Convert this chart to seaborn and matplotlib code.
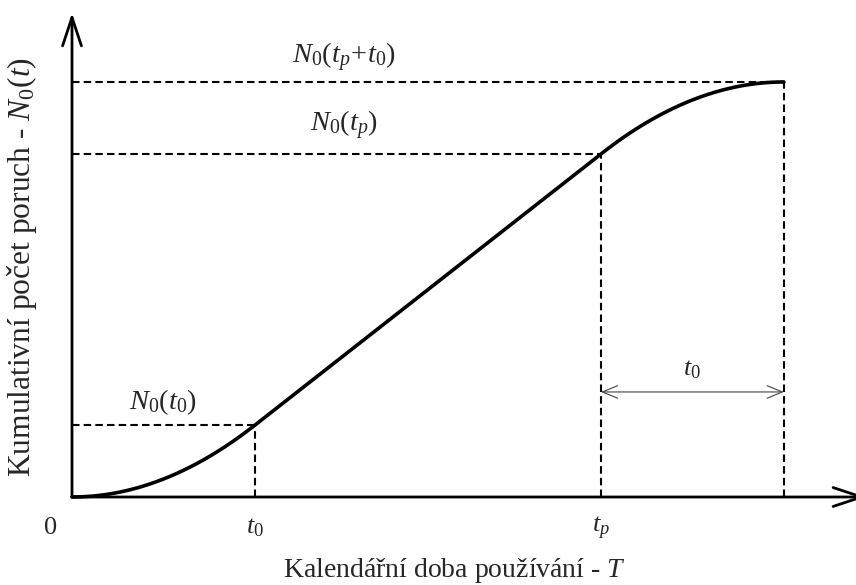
import numpy as np
import matplotlib
matplotlib.use("Agg")
import matplotlib.pyplot as plt
from matplotlib.patches import FancyArrowPatch
import seaborn as sns

# Characteristic times (in units of t0) and cumulative failure levels
t_marks = [1.0, 2.89]            # t0, tp
n_levels = [0.393, 1.874, 2.268]  # N0(t0), N0(tp), N0(tp+t0)
tick_labels = ["0", r"$t_0$", r"$t_p$"]
level_labels = [r"$N_0(t_0)$", r"$N_0(t_p)$", r"$N_0(t_p\!+\!t_0)$"]
x_title = r"Kalendářní doba používání - $T$"
y_title = r"Kumulativní počet poruch - $N_0(t)$"

sns.set_theme(style="white")
plt.rcParams["font.family"] = ["Liberation Serif", "DejaVu Serif"]
plt.rcParams["mathtext.fontset"] = "custom"
plt.rcParams["mathtext.rm"] = "Liberation Serif"
plt.rcParams["mathtext.it"] = "Liberation Serif:italic"
plt.rcParams["mathtext.bf"] = "Liberation Serif:bold"

t0, tp = t_marks
n_t0, n_tp, n_end = n_levels
t_end = tp + t0

# Piecewise curve: accelerating run-in, linear wear, decelerating saturation
slope = (n_tp - n_t0) / (tp - t0)
x1 = np.linspace(0, t0, 80)
y1 = n_t0 * (x1 / t0) ** 2
x2 = np.linspace(t0, tp, 80)
y2 = n_t0 + slope * (x2 - t0)
x3 = np.linspace(tp, t_end, 80)
y3 = n_tp + (n_end - n_tp) * (2 * (x3 - tp) / t0 - ((x3 - tp) / t0) ** 2)
xs = np.concatenate([x1, x2, x3])
ys = np.concatenate([y1, y2, y3])

fig = plt.figure(figsize=(8.56, 5.85), dpi=100)
ax = fig.add_axes([0, 0, 1, 1])
ax.set_xlim(-72 / 183, (856 - 72) / 183)
ax.set_ylim(-88 / 183, (585 - 88) / 183)
ax.axis("off")

# Axes with open arrow heads
for start, end in [((0, 0), (0, 2.645)), ((0, 0), (4.339, 0))]:
    ax.add_patch(FancyArrowPatch(start, end, arrowstyle="->,head_length=20.5,head_width=6.8",
                                 mutation_scale=1, lw=2.0, color="black",
                                 shrinkA=0, shrinkB=0, zorder=4))

# Dashed guide lines
dash = dict(color="black", lw=1.5, dashes=(3.6, 2.0), zorder=2)
for xv, yv in zip([t0, tp, t_end], [n_t0, n_tp, n_end]):
    ax.plot([0, xv], [yv, yv], **dash)
    ax.plot([xv, xv], [0, yv], **dash)

# Main curve
sns.lineplot(x=xs, y=ys, ax=ax, color="black", lw=2.6, sort=False, zorder=3)

# Interval t0 after tp
ax.add_patch(FancyArrowPatch((tp, 0.574), (t_end, 0.574),
                             arrowstyle="<->,head_length=11,head_width=4.5",
                             mutation_scale=1, lw=0.8, color="#444444",
                             shrinkA=0, shrinkB=0, zorder=3))
ax.text(3.388, 0.694, r"$t_0$", ha="center", va="center", fontsize=19)

# Level labels
ax.text(0.497, 0.519, level_labels[0], ha="center", va="center", fontsize=20.5)
ax.text(1.486, 2.033, level_labels[1], ha="center", va="center", fontsize=20.5)
ax.text(1.486, 2.404, level_labels[2], ha="center", va="center", fontsize=20.5)

# Tick labels under the time axis
for xv, lab in zip([-0.115, t0, tp], tick_labels):
    ax.text(xv, -0.17, lab, ha="center", va="center", fontsize=19)

ax.text(2.087, -0.399, x_title, ha="center", va="center", fontsize=20)
ax.text(-0.272, 1.257, y_title, ha="center", va="center", rotation=90, fontsize=22.7)

fig.savefig("out.png", dpi=100)
